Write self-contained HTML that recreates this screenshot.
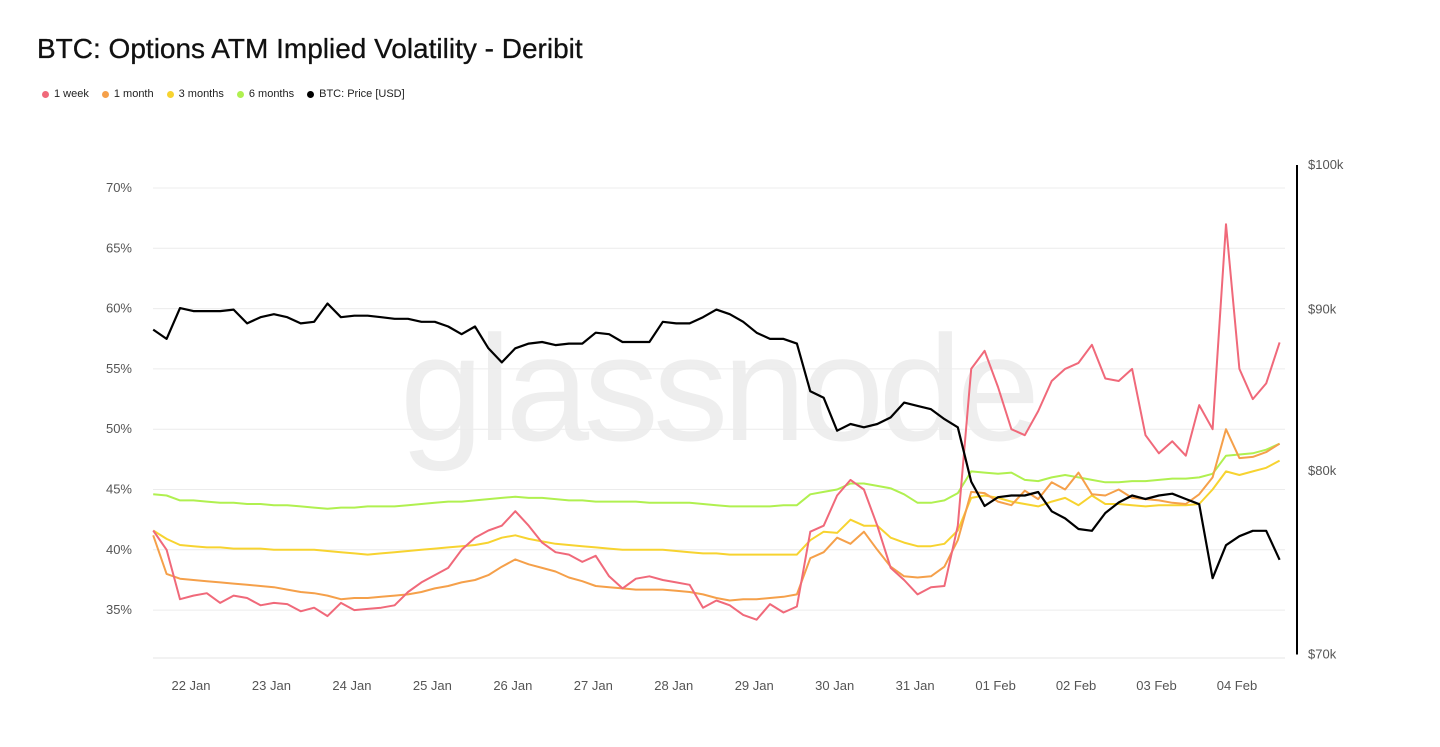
<!DOCTYPE html>
<html><head><meta charset="utf-8"><style>
body{margin:0;background:#fff;font-family:"Liberation Sans",sans-serif}
#wrap{position:relative;width:1440px;height:747px;overflow:hidden}
h1{position:absolute;left:37px;top:33px;margin:0;font-size:28px;font-weight:400;color:#111;-webkit-text-stroke:0.3px #111}
.legend{position:absolute;left:42px;top:88px;font-size:11px;color:#222;display:flex;gap:13px}
.legend span{display:flex;align-items:center}
.legend i{display:inline-block;width:7px;height:7px;border-radius:50%;margin-right:5px}
</style></head><body>
<div id="wrap">
<h1>BTC: Options ATM Implied Volatility - Deribit</h1>
<div class="legend">
<span><i style="background:#f0697a"></i>1 week</span>
<span><i style="background:#f5a04a"></i>1 month</span>
<span><i style="background:#f7d330"></i>3 months</span>
<span><i style="background:#b0f050"></i>6 months</span>
<span><i style="background:#000"></i>BTC: Price [USD]</span>
</div>
<svg id="chart" width="1440" height="747" style="position:absolute;left:0;top:0"></svg>
</div>
<script>
const pctTicks=[35,40,45,50,55,60,65,70];
const priceTicks=[70,80,90,100];
const priceTickLabels=["$70k","$80k","$90k","$100k"];
const dayLabels=["22 Jan","23 Jan","24 Jan","25 Jan","26 Jan","27 Jan","28 Jan","29 Jan","30 Jan","31 Jan","01 Feb","02 Feb","03 Feb","04 Feb"];
const startDayOffset=0.47;
const stepDays=1/6;
const price=[88.7,88.1,90.1,89.9,89.9,89.9,90.0,89.1,89.5,89.7,89.5,89.1,89.2,90.4,89.5,89.6,89.6,89.5,89.4,89.4,89.2,89.2,88.9,88.4,88.9,87.5,86.6,87.5,87.8,87.9,87.7,87.8,87.8,88.5,88.4,87.9,87.9,87.9,89.2,89.1,89.1,89.5,90.0,89.7,89.2,88.5,88.1,88.1,87.8,84.8,84.4,82.4,82.8,82.6,82.8,83.2,84.1,83.9,83.7,83.1,82.6,79.4,78.0,78.5,78.6,78.6,78.8,77.7,77.3,76.7,76.6,77.6,78.2,78.6,78.4,78.6,78.7,78.4,78.1,74.0,75.8,76.3,76.6,76.6,75.0];
const iv6m=[44.6,44.5,44.1,44.1,44.0,43.9,43.9,43.8,43.8,43.7,43.7,43.6,43.5,43.4,43.5,43.5,43.6,43.6,43.6,43.7,43.8,43.9,44.0,44.0,44.1,44.2,44.3,44.4,44.3,44.3,44.2,44.1,44.1,44.0,44.0,44.0,44.0,43.9,43.9,43.9,43.9,43.8,43.7,43.6,43.6,43.6,43.6,43.7,43.7,44.6,44.8,45.0,45.5,45.5,45.3,45.1,44.6,43.9,43.9,44.1,44.7,46.5,46.4,46.3,46.4,45.8,45.7,46.0,46.2,46.0,45.8,45.6,45.6,45.7,45.7,45.8,45.9,45.9,46.0,46.3,47.8,47.9,48.0,48.3,48.8];
const iv3m=[41.6,40.9,40.4,40.3,40.2,40.2,40.1,40.1,40.1,40.0,40.0,40.0,40.0,39.9,39.8,39.7,39.6,39.7,39.8,39.9,40.0,40.1,40.2,40.3,40.4,40.6,41.0,41.2,40.9,40.7,40.5,40.4,40.3,40.2,40.1,40.0,40.0,40.0,40.0,39.9,39.8,39.7,39.7,39.6,39.6,39.6,39.6,39.6,39.6,40.8,41.5,41.4,42.5,42.0,42.0,41.0,40.6,40.3,40.3,40.5,41.6,44.3,44.5,44.3,44.0,43.8,43.6,44.0,44.3,43.7,44.5,43.8,43.8,43.7,43.6,43.7,43.7,43.7,43.8,45.0,46.5,46.2,46.5,46.8,47.4];
const iv1m=[41.2,38.0,37.6,37.5,37.4,37.3,37.2,37.1,37.0,36.9,36.7,36.5,36.4,36.2,35.9,36.0,36.0,36.1,36.2,36.3,36.5,36.8,37.0,37.3,37.5,37.9,38.6,39.2,38.8,38.5,38.2,37.7,37.4,37.0,36.9,36.8,36.7,36.7,36.7,36.6,36.5,36.3,36.0,35.8,35.9,35.9,36.0,36.1,36.3,39.3,39.8,41.0,40.5,41.5,40.0,38.6,37.8,37.7,37.8,38.6,40.8,44.8,44.7,44.0,43.7,44.9,44.2,45.6,45.0,46.4,44.6,44.5,45.0,44.3,44.2,44.1,43.9,43.8,44.6,46.0,50.0,47.6,47.7,48.1,48.8];
const iv1w=[41.6,40.0,35.9,36.2,36.4,35.6,36.2,36.0,35.4,35.6,35.5,34.9,35.2,34.5,35.6,35.0,35.1,35.2,35.4,36.5,37.3,37.9,38.5,40.0,41.0,41.6,42.0,43.2,42.0,40.6,39.8,39.6,39.0,39.5,37.8,36.8,37.6,37.8,37.5,37.3,37.1,35.2,35.8,35.4,34.6,34.2,35.5,34.8,35.3,41.5,42.0,44.5,45.8,45.0,42.0,38.5,37.5,36.3,36.9,37.0,42.0,55.0,56.5,53.5,50.0,49.5,51.5,54.0,55.0,55.5,57.0,54.2,54.0,55.0,49.5,48.0,49.0,47.8,52.0,50.0,67.0,55.0,52.5,53.8,57.2];

const NS="http://www.w3.org/2000/svg";
const svg=document.getElementById('chart');
const X0=153,X1=1285,DAYPX=80.46,DAY0X=191;
const xDay=d=>DAY0X+d*DAYPX;
const xIdx=i=>xDay(-startDayOffset+i*stepDays);
const yPct=v=>188+(70-v)*12.06;
const yPrice=p=>165+(2-Math.log10(p))*3160;
function mk(tag,attrs){const e=document.createElementNS(NS,tag);for(const k in attrs)e.setAttribute(k,attrs[k]);svg.appendChild(e);return e;}

const wm=mk('text',{x:720,y:440,'text-anchor':'middle','font-size':150,fill:'#eeeeee','font-family':'Liberation Sans, sans-serif',textLength:640});


wm.textContent='glassnode';

pctTicks.forEach(v=>{
  const g=mk('line',{x1:X0,x2:X1,y1:yPct(v),y2:yPct(v),stroke:'#ececec','stroke-width':1});
  
  
  const t=mk('text',{x:132,y:yPct(v)+4,'text-anchor':'end','font-size':13,fill:'#555'});
  
  
  t.textContent=v+'%';
});
const base=mk('line',{x1:X0,x2:X1,y1:658,y2:658,stroke:'#e6e6e6','stroke-width':1});


const ra=mk('line',{x1:1297,x2:1297,y1:yPrice(100),y2:yPrice(70),stroke:'#000','stroke-width':2});


priceTicks.forEach((p,k)=>{
  const t=mk('text',{x:1308,y:yPrice(p)+4,'font-size':13,fill:'#555'});
  
  
  t.textContent=priceTickLabels[k];
});
dayLabels.forEach((d,k)=>{
  const t=mk('text',{x:xDay(k),y:690,'text-anchor':'middle','font-size':13,fill:'#555'});
  
  
  t.textContent=d;
});
function line(arr,yf,color,name,w){
  const pts=arr.map((v,i)=>xIdx(i).toFixed(1)+','+yf(v).toFixed(1)).join(' ');
  const p=mk('polyline',{points:pts,fill:'none',stroke:color,'stroke-width':w,'stroke-linejoin':'round'});
  
  
}
line(iv6m,yPct,'#b0f050','series-6-months',2);
line(iv3m,yPct,'#f7d330','series-3-months',2);
line(iv1m,yPct,'#f5a04a','series-1-month',2);
line(iv1w,yPct,'#f0697a','series-1-week',2);
line(price,yPrice,'#000','series-btc-price',2.2);
</script>
</body></html>
